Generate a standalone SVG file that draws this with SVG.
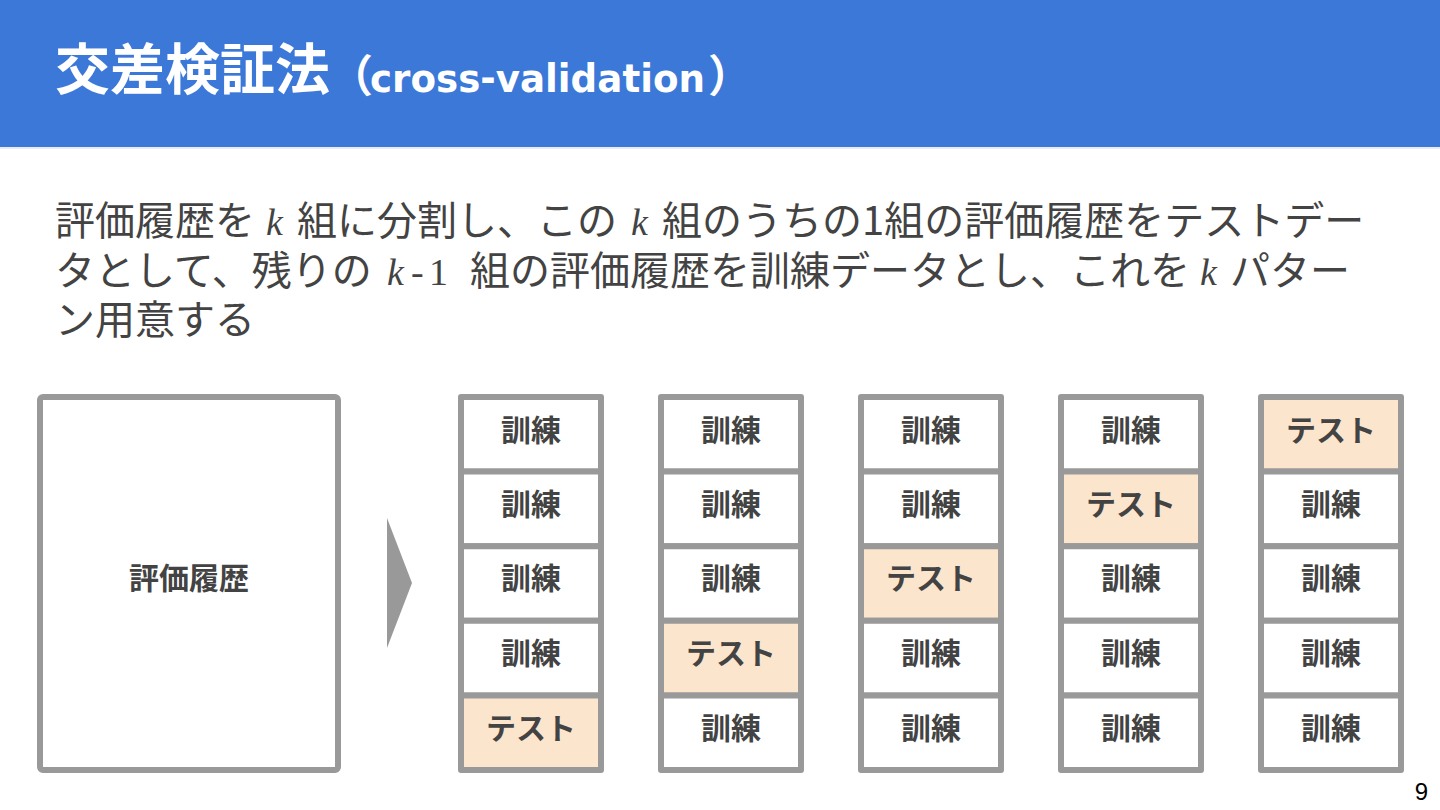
<svg xmlns="http://www.w3.org/2000/svg" width="1440" height="810" viewBox="0 0 1440 810">
<style>
.jp{font-family:"Noto Sans CJK JP","Noto Sans",sans-serif;}
.body{font-size:40px;fill:#434343;}
.kk{font-family:"Liberation Serif",serif;font-style:italic;font-size:38px;fill:#434343;}
.num{font-family:"Liberation Serif",serif;font-size:38px;fill:#434343;}
.cell{stroke:#999999;stroke-width:6;fill:#ffffff;stroke-linejoin:round;}
.test{fill:#fce5cd;}
.lbl{font-family:"Noto Sans CJK JP",sans-serif;font-weight:bold;font-size:30px;fill:#434343;text-anchor:middle;}
</style>
<rect x="0" y="0" width="1440" height="147" fill="#3c78d8"/>
<rect x="0" y="147" width="1440" height="2" fill="#e8edf5"/>
<text class="jp" y="89" fill="#ffffff" font-weight="bold"><tspan x="55" font-size="55">交差検証法</tspan><tspan x="329" y="92" font-size="44">（</tspan><tspan x="370" y="92" font-size="39" font-family="DejaVu Sans,sans-serif" textLength="335" lengthAdjust="spacingAndGlyphs">cross-validation</tspan><tspan x="708" y="92" font-size="44">）</tspan></text>

<g id="description">
<text class="jp body" x="55" y="235">評価履歴を</text>
<text class="kk" x="266" y="235">k</text>
<text class="jp body" x="297" y="235">組に分割し、この</text>
<text class="kk" x="631" y="235">k</text>
<text class="jp body" x="662" y="235">組のうちの1組の評価履歴をテストデー</text>
<text class="jp body" x="55" y="285">タとして、残りの</text>
<text class="kk" x="387" y="285">k</text>
<text class="num" x="411" y="285">-</text>
<text class="num" x="429" y="285">1</text>
<text class="jp body" x="470" y="285">組の評価履歴を訓練データとし、これを</text>
<text class="kk" x="1200" y="285">k</text>
<text class="jp body" x="1230" y="285">パター</text>
<text class="jp body" x="55" y="334">ン用意する</text>
</g>

<g id="history">
<rect class="cell" x="40" y="397" width="298" height="373" rx="3"/>
<text class="lbl" x="189" y="589">評価履歴</text>
</g>

<g id="connectors">
<polygon points="387,518 412,583 387,648" fill="#999999"/>
</g>

<g id="fold1">
<rect class="cell" x="461" y="397" width="140" height="74.6"/>
<rect class="cell" x="461" y="471.6" width="140" height="74.6"/>
<rect class="cell" x="461" y="546.2" width="140" height="74.6"/>
<rect class="cell" x="461" y="620.8" width="140" height="74.6"/>
<rect class="cell test" x="461" y="695.4" width="140" height="74.6"/>
<text class="lbl" x="531" y="441">訓練</text>
<text class="lbl" x="531" y="515">訓練</text>
<text class="lbl" x="531" y="589">訓練</text>
<text class="lbl" x="531" y="664">訓練</text>
<text class="lbl" x="531" y="739">テスト</text>
</g>

<g id="fold2">
<rect class="cell" x="661" y="397" width="140" height="74.6"/>
<rect class="cell" x="661" y="471.6" width="140" height="74.6"/>
<rect class="cell" x="661" y="546.2" width="140" height="74.6"/>
<rect class="cell test" x="661" y="620.8" width="140" height="74.6"/>
<rect class="cell" x="661" y="695.4" width="140" height="74.6"/>
<text class="lbl" x="731" y="441">訓練</text>
<text class="lbl" x="731" y="515">訓練</text>
<text class="lbl" x="731" y="589">訓練</text>
<text class="lbl" x="731" y="664">テスト</text>
<text class="lbl" x="731" y="739">訓練</text>
</g>

<g id="fold3">
<rect class="cell" x="861" y="397" width="140" height="74.6"/>
<rect class="cell" x="861" y="471.6" width="140" height="74.6"/>
<rect class="cell test" x="861" y="546.2" width="140" height="74.6"/>
<rect class="cell" x="861" y="620.8" width="140" height="74.6"/>
<rect class="cell" x="861" y="695.4" width="140" height="74.6"/>
<text class="lbl" x="931" y="441">訓練</text>
<text class="lbl" x="931" y="515">訓練</text>
<text class="lbl" x="931" y="589">テスト</text>
<text class="lbl" x="931" y="664">訓練</text>
<text class="lbl" x="931" y="739">訓練</text>
</g>

<g id="fold4">
<rect class="cell" x="1061" y="397" width="140" height="74.6"/>
<rect class="cell test" x="1061" y="471.6" width="140" height="74.6"/>
<rect class="cell" x="1061" y="546.2" width="140" height="74.6"/>
<rect class="cell" x="1061" y="620.8" width="140" height="74.6"/>
<rect class="cell" x="1061" y="695.4" width="140" height="74.6"/>
<text class="lbl" x="1131" y="441">訓練</text>
<text class="lbl" x="1131" y="515">テスト</text>
<text class="lbl" x="1131" y="589">訓練</text>
<text class="lbl" x="1131" y="664">訓練</text>
<text class="lbl" x="1131" y="739">訓練</text>
</g>

<g id="fold5">
<rect class="cell test" x="1261" y="397" width="140" height="74.6"/>
<rect class="cell" x="1261" y="471.6" width="140" height="74.6"/>
<rect class="cell" x="1261" y="546.2" width="140" height="74.6"/>
<rect class="cell" x="1261" y="620.8" width="140" height="74.6"/>
<rect class="cell" x="1261" y="695.4" width="140" height="74.6"/>
<text class="lbl" x="1331" y="441">テスト</text>
<text class="lbl" x="1331" y="515">訓練</text>
<text class="lbl" x="1331" y="589">訓練</text>
<text class="lbl" x="1331" y="664">訓練</text>
<text class="lbl" x="1331" y="739">訓練</text>
</g>

<text x="1428" y="800" text-anchor="end" font-family="Liberation Sans,sans-serif" font-size="24" fill="#000000">9</text>
</svg>
